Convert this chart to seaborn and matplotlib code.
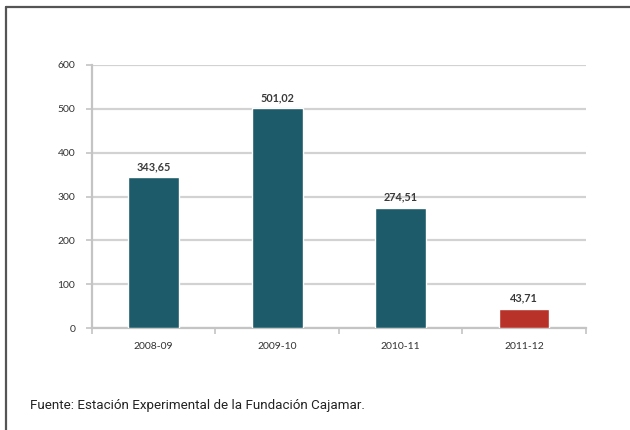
import matplotlib
matplotlib.use("Agg")
import matplotlib.pyplot as plt
import seaborn as sns
import pandas as pd
from matplotlib.lines import Line2D

# campaigns and values
campaigns = ["2008-09", "2009-10", "2010-11", "2011-12"]
values = [343.65, 501.02, 274.51, 43.71]
bar_colors = ["#1d5b6a", "#1d5b6a", "#1d5b6a", "#b8322a"]
yticks = [0, 100, 200, 300, 400, 500, 600]

sns.set_theme(style="white")
plt.rcParams["font.family"] = ["Lato", "DejaVu Sans"]

df = pd.DataFrame({"campana": campaigns, "valor": values})

fig = plt.figure(figsize=(6.3, 4.3), dpi=100)
ax = fig.add_axes([0.146, 0.237, 0.784, 0.612])

sns.barplot(data=df, x="campana", y="valor", hue="campana", palette=bar_colors,
            width=0.41, saturation=1, legend=False, ax=ax, zorder=3)

ax.set_ylim(0, 600)
ax.set_xlim(-0.5, 3.5)
ax.set_yticks(yticks)
ax.set_yticklabels([str(t) for t in yticks])
ax.set_xlabel("")
ax.set_ylabel("")

ax.grid(axis="y", color="#d2d2d2", linewidth=1.6, zorder=0)
ax.set_axisbelow(True)
for side in ["top", "right"]:
    ax.spines[side].set_visible(False)
for side in ["left", "bottom"]:
    ax.spines[side].set_color("#c4c4c4")
    ax.spines[side].set_linewidth(1.6)

ax.tick_params(axis="y", which="major", direction="out", length=4, width=1.2,
               color="#c4c4c4", labelsize=7.5, labelcolor="#333333", pad=8, left=True)
ax.tick_params(axis="x", which="major", length=0, labelsize=7.5,
               labelcolor="#333333", pad=10)
ax.set_xticks([-0.5, 0.5, 1.5, 2.5, 3.5], minor=True)
ax.tick_params(axis="x", which="minor", direction="out", length=4, width=1.2,
               color="#c4c4c4", bottom=True)

for i, v in enumerate(values):
    ax.text(i, v + 12, f"{v:.2f}".replace(".", ","), ha="center", va="bottom",
            fontsize=7.8, color="#3a3a3a", fontweight="bold")

fig.text(30 / 630, 1 - 405 / 430, "Fuente: Estación Experimental de la Fundación Cajamar.",
         family=["Roboto", "DejaVu Sans"], fontsize=9.6,
         color="#222222", va="center", ha="left")

# frame lines (top and left)
fig.add_artist(Line2D([6 / 630, 1], [1 - 7 / 430, 1 - 7 / 430],
                      transform=fig.transFigure, color="#555555", linewidth=1.6))
fig.add_artist(Line2D([6 / 630, 6 / 630], [0, 1 - 7 / 430],
                      transform=fig.transFigure, color="#555555", linewidth=1.6))

fig.savefig("out.png", dpi=100)
